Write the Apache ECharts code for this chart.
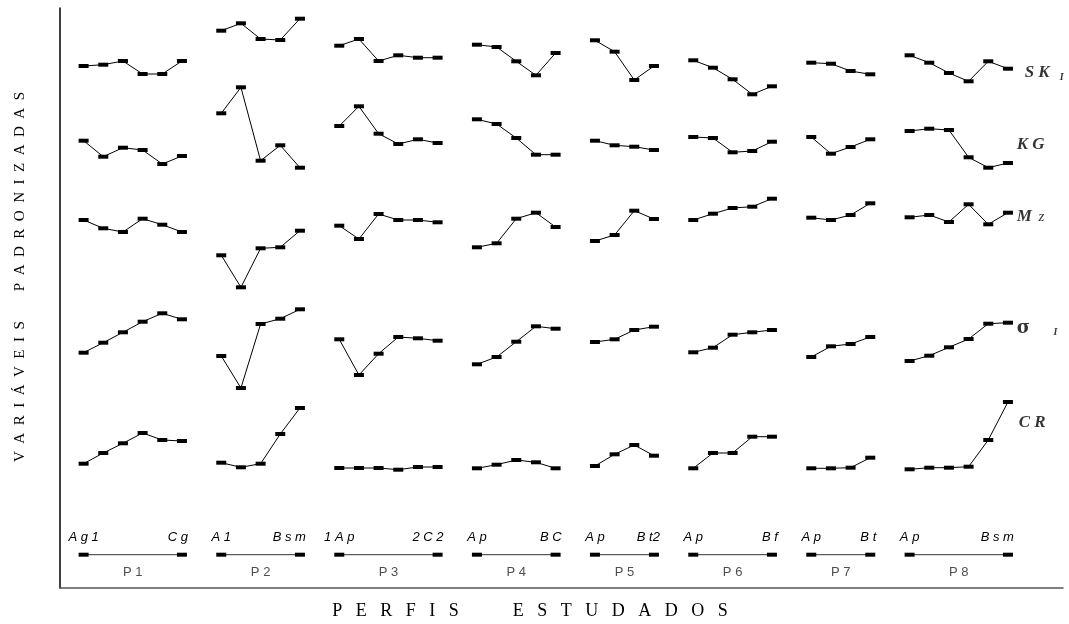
<!DOCTYPE html>
<html>
<head>
<meta charset="utf-8">
<script src="https://cdn.jsdelivr.net/npm/echarts@6/dist/echarts.min.js"></script>
<style>
html,body{margin:0;padding:0;background:#fff;}
#chart{width:1069px;height:624px;}
</style>
</head>
<body>
<div id="chart"></div>
<script>
// ---------- DATA ----------
const profiles = ['P 1', 'P 2', 'P 3', 'P 4', 'P 5', 'P 6', 'P 7', 'P 8'];
const firstHorizon = ['A g 1', 'A 1', '1 A p', 'A p', 'A p', 'A p', 'A p', 'A p'];
const lastHorizon = ['C g', 'B s m', '2 C 2', 'B C', 'B t2', 'B f', 'B t', 'B s m'];

// standardized values (deviation from each variable's band), one array per profile, top horizon first
const skI = [
  [-0.60, -0.47, -0.10, -1.40, -1.40, -0.10],
  [2.93, 3.67, 2.10, 2.00, 4.13],
  [1.43, 2.10, -0.10, 0.47, 0.23, 0.23],
  [1.53, 1.30, -0.13, -1.53, 0.70],
  [1.97, 0.83, -2.00, -0.60],
  [-0.03, -0.77, -1.93, -3.43, -2.63],
  [-0.27, -0.37, -1.10, -1.43],
  [0.47, -0.27, -1.30, -2.13, -0.13, -0.87]
];
const kg = [
  [-0.07, -1.67, -0.77, -1.00, -2.40, -1.60],
  [2.67, 5.27, -2.07, -0.53, -2.77],
  [1.40, 3.37, 0.63, -0.40, 0.07, -0.30],
  [2.07, 1.60, 0.20, -1.47, -1.47],
  [-0.07, -0.53, -0.67, -1.00],
  [0.30, 0.20, -1.23, -1.10, -0.17],
  [0.30, -1.37, -0.70, 0.07],
  [0.90, 1.13, 1.00, -1.73, -2.77, -2.30]
];
const mz = [
  [0.00, -0.83, -1.20, 0.13, -0.47, -1.20],
  [-3.53, -6.73, -2.83, -2.73, -1.07],
  [-0.57, -1.90, 0.60, 0.00, 0.00, -0.23],
  [-2.73, -2.33, 0.13, 0.73, -0.70],
  [-2.10, -1.50, 0.93, 0.10],
  [0.00, 0.63, 1.20, 1.33, 2.13],
  [0.23, 0.00, 0.50, 1.67],
  [0.27, 0.50, -0.20, 1.57, -0.43, 0.73]
];
const sigmaI = [
  [-1.27, -0.27, 0.77, 1.83, 2.67, 2.07],
  [-1.60, -4.80, 1.60, 2.13, 3.07],
  [0.07, -3.50, -1.37, 0.30, 0.17, -0.07],
  [-2.43, -1.70, -0.17, 1.37, 1.13],
  [-0.20, 0.07, 1.00, 1.33],
  [-1.23, -0.77, 0.53, 0.77, 1.00],
  [-1.70, -0.63, -0.40, 0.30],
  [-2.10, -1.57, -0.73, 0.10, 1.63, 1.73]
];
const cr = [
  [-0.37, 0.70, 1.67, 2.70, 2.00, 1.90],
  [-0.27, -0.73, -0.37, 2.60, 5.20],
  [-0.80, -0.80, -0.80, -0.97, -0.70, -0.70],
  [-0.83, -0.47, 0.00, -0.23, -0.83],
  [-0.60, 0.57, 1.50, 0.43],
  [-0.83, 0.70, 0.70, 2.33, 2.33],
  [-0.83, -0.83, -0.77, 0.23],
  [-0.93, -0.77, -0.77, -0.67, 2.00, 5.80]
];

const variables = [
  { key: 'SK', values: skI },
  { key: 'KG', values: kg },
  { key: 'Mz', values: mz },
  { key: 'sigma', values: sigmaI },
  { key: 'CR', values: cr }
];

// ---------- LAYOUT ----------
const bandBase = { SK: 52.8, KG: 44.8, Mz: 36.8, sigma: 24.8, CR: 12.8 };
const legendRowY = 3.33;
const varLabelPos = {
  SK: [47.85, 51.5], KG: [47.45, 44.3], Mz: [47.45, 37.1], sigma: [47.45, 26.0], CR: [47.55, 16.5]
};
const varLabelText = {
  SK: '{m|S K}   {s|I}',
  KG: '{m|K G}',
  Mz: '{m|M}  {z|z}',
  sigma: '{g|σ}       {s|I}',
  CR: '{m|C R}'
};

// slot start of each profile (one empty slot between profiles)
const starts = [];
let cursor = 0;
skI.forEach(arr => { starts.push(cursor); cursor += arr.length + 1; });

const series = [];
const markerStyle = { color: '#000' };
variables.forEach(v => {
  v.values.forEach((arr, p) => {
    series.push({
      type: 'line',
      data: arr.map((d, i) => [starts[p] + i, bandBase[v.key] + d]),
      symbol: 'rect',
      symbolSize: [10, 4],
      itemStyle: markerStyle,
      lineStyle: { color: '#000', width: 1 },
      silent: true,
      animation: false,
      z: 3
    });
  });
});

// bottom profile rows
const hLabelBase = {
  show: true, position: 'top', distance: 9,
  fontFamily: 'Liberation Sans, Arial, sans-serif', fontStyle: 'italic',
  fontSize: 13, color: '#000'
};
profiles.forEach((name, p) => {
  const n = skI[p].length;
  series.push({
    type: 'line',
    data: [
      { value: [starts[p], legendRowY], label: Object.assign({}, hLabelBase, { formatter: firstHorizon[p], align: 'center' }) },
      { value: [starts[p] + n - 1, legendRowY], label: Object.assign({}, hLabelBase, { formatter: lastHorizon[p], align: 'right', offset: [6, 0] }) }
    ],
    symbol: 'rect', symbolSize: [10, 4],
    itemStyle: markerStyle,
    lineStyle: { color: '#333', width: 1 },
    silent: true, animation: false
  });
});
series.push({
  type: 'scatter',
  data: profiles.map((name, p) => ({ value: [starts[p] + (skI[p].length - 1) / 2, legendRowY], name: name })),
  symbolSize: 0,
  label: {
    show: true, position: 'bottom', distance: 11,
    formatter: d => d.name,
    fontFamily: 'Liberation Sans, Arial, sans-serif', fontSize: 13, color: '#222'
  },
  silent: true, animation: false
});

// variable labels at right
series.push({
  type: 'scatter',
  data: variables.map(v => ({ value: varLabelPos[v.key], name: v.key })),
  symbolSize: 0,
  label: {
    show: true, position: 'right', distance: 0,
    formatter: d => varLabelText[d.name],
    rich: {
      m: { fontFamily: 'Liberation Serif, Times New Roman, serif', fontWeight: 'bold', fontStyle: 'italic', fontSize: 17, color: '#000' },
      z: { fontFamily: 'Liberation Serif, Times New Roman, serif', fontStyle: 'italic', fontSize: 15, color: '#000' },
      g: { fontFamily: 'DejaVu Serif, serif', fontWeight: 'bold', fontSize: 18, color: '#000' },
      s: { fontFamily: 'Liberation Serif, Times New Roman, serif', fontWeight: 'bold', fontStyle: 'italic', fontSize: 10, color: '#000', verticalAlign: 'bottom', padding: [8, 0, 0, 0] }
    }
  },
  silent: true, animation: false
});

const chart = echarts.init(document.getElementById('chart'), null, { renderer: 'canvas' });
chart.setOption({
  backgroundColor: '#fff',
  animation: false,
  grid: { left: 60, right: 6, top: 8, bottom: 36 },
  xAxis: {
    type: 'value', min: -1.2, max: 49.8,
    axisLine: { show: true, onZero: false, lineStyle: { color: '#555', width: 1.5 } },
    axisTick: { show: false }, axisLabel: { show: false }, splitLine: { show: false }
  },
  yAxis: {
    type: 'value', min: 0, max: 58,
    axisLine: { show: true, onZero: false, lineStyle: { color: '#000', width: 1.5 } },
    axisTick: { show: false }, axisLabel: { show: false }, splitLine: { show: false }
  },
  graphic: [
    {
      type: 'text', x: 20, y: 277, rotation: Math.PI / 2,
      style: {
        text: 'V\u2002A\u2002R\u2002I\u2002Á\u2002V\u2002E\u2002I\u2002S\u2003\u2003P\u2002A\u2002D\u2002R\u2002O\u2002N\u2002I\u2002Z\u2002A\u2002D\u2002A\u2002S',
        font: '15px "Liberation Serif", "Times New Roman", serif',
        fill: '#000', align: 'center', verticalAlign: 'middle'
      }
    },
    {
      type: 'text', x: 530, y: 611,
      style: {
        text: 'P\u2002 E\u2002 R\u2002 F\u2002 I\u2002 S\u2003\u2003\u2003E\u2002 S\u2002 T\u2002 U\u2002 D\u2002 A\u2002 D\u2002 O\u2002 S',
        font: '18px "Liberation Serif", "Times New Roman", serif',
        fill: '#000', align: 'center', verticalAlign: 'middle'
      }
    }
  ],
  series: series
});
</script>
</body>
</html>
